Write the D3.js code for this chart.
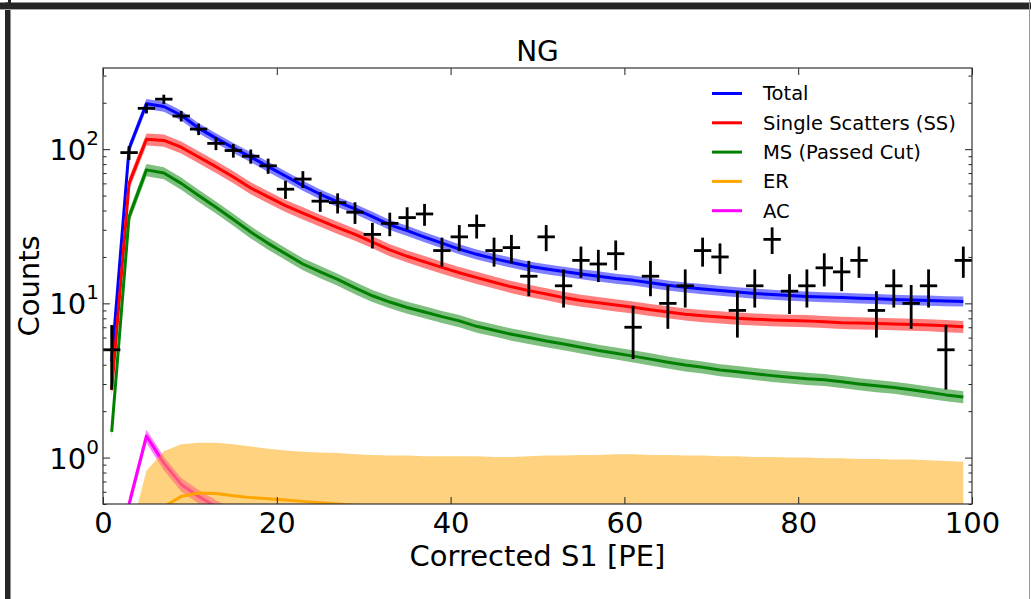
<!DOCTYPE html>
<html>
<head>
<meta charset="utf-8">
<script src="https://cdn.jsdelivr.net/npm/d3@7"></script>
<style>
  body { margin: 0; background: #fff; }
  svg { display: block; font-family: "DejaVu Sans", sans-serif; }
</style>
</head>
<body>
<svg id="chart" width="1031" height="599"></svg>
<script>
// 2 PE wide bins, centres at 1, 3, ..., 99
const binCenters = d3.range(1, 100, 2);

// Observed neutron-generator counts per bin
const dataCounts = [5, 95, 184, 211, 164, 135, 109, 98, 90, 78,
  55, 64, 46, 45, 39, 28, 33, 36, 38, 22,
  27, 32, 22, 23, 15, 27, 13, 19, 18, 21,
  7, 15, 10, 13, 22, 20, 9, 13, 26, 12,
  13, 17, 16, 19, 9, 13, 10, 13, 5, 19];

// Model components
const totalModel = [4.2, 101, 197, 189, 166, 137, 118, 102, 89, 77,
  67, 58, 51, 45.5, 41, 36.5, 32.3, 29.6, 26.9, 24.6,
  22.5, 20.8, 19.5, 18.4, 17.4, 16.7, 16.1, 15.5, 15.0, 14.5,
  14.1, 13.6, 13.1, 12.7, 12.4, 12.1, 11.85, 11.6, 11.4, 11.25,
  11.1, 11.0, 10.9, 10.8, 10.7, 10.6, 10.5, 10.45, 10.35, 10.3];

const ssModel = [2.74, 60, 116, 114, 103, 89, 77, 66, 56, 49,
  43, 38.5, 34.5, 31, 28, 25, 22.2, 20.2, 18.6, 17.1,
  15.8, 14.7, 13.7, 12.8, 12.1, 11.5, 10.9, 10.45, 10.1, 9.75,
  9.45, 9.1, 8.8, 8.5, 8.3, 8.15, 8.0, 7.9, 7.8, 7.75,
  7.7, 7.6, 7.5, 7.45, 7.4, 7.35, 7.3, 7.25, 7.15, 7.05];

const msModel = [1.47, 36.5, 73.4, 70, 60, 50, 42, 35, 29, 24.5,
  21, 18, 16, 14.3, 12.6, 11.2, 10.2, 9.4, 8.8, 8.2,
  7.7, 7.1, 6.7, 6.3, 6.0, 5.7, 5.45, 5.2, 4.95, 4.75,
  4.55, 4.35, 4.15, 3.98, 3.85, 3.7, 3.6, 3.5, 3.4, 3.32,
  3.25, 3.2, 3.1, 3.0, 2.92, 2.85, 2.75, 2.65, 2.55, 2.47];

const erModel = [0.05, 0.15, 0.3, 0.48, 0.56, 0.59, 0.585, 0.565, 0.55, 0.54,
  0.53, 0.52, 0.51, 0.5, 0.49, 0.48, 0.47, 0.46, 0.455, 0.45,
  0.445, 0.44, 0.435, 0.43, 0.425, 0.42, 0.415, 0.41, 0.41, 0.405,
  0.4, 0.4, 0.395, 0.39, 0.39, 0.385, 0.38, 0.38, 0.375, 0.37,
  0.37, 0.365, 0.36, 0.36, 0.355, 0.35, 0.35, 0.345, 0.34, 0.34];

// Upper edge of the ER uncertainty band (lower edge is off scale)
const erUpper = [0.1, 0.3, 0.82, 1.1, 1.22, 1.25, 1.25, 1.22, 1.18, 1.14,
  1.11, 1.09, 1.08, 1.07, 1.05, 1.04, 1.03, 1.03, 1.02, 1.02,
  1.02, 1.02, 1.01, 1.01, 1.02, 1.03, 1.03, 1.04, 1.04, 1.05,
  1.05, 1.04, 1.04, 1.03, 1.03, 1.02, 1.02, 1.01, 1.01, 1.0,
  1.0, 0.99, 0.99, 0.98, 0.98, 0.97, 0.97, 0.96, 0.95, 0.94];

const acModel = [0.05, 0.5, 1.38, 0.92, 0.67, 0.56, 0.48, 0.42, 0.37, 0.33,
  0.3, 0.27, 0.25, 0.23, 0.21, 0.2, 0.19, 0.18, 0.17, 0.16,
  0.155, 0.15, 0.145, 0.14, 0.135, 0.13, 0.125, 0.12, 0.12, 0.115,
  0.11, 0.11, 0.105, 0.1, 0.1, 0.1, 0.095, 0.095, 0.09, 0.09,
  0.09, 0.085, 0.085, 0.08, 0.08, 0.08, 0.075, 0.075, 0.075, 0.07];

// Relative width of the model uncertainty bands
const bandFrac = { total: 0.075, ss: 0.09, ms: 0.09, ac: 0.1 };

const xTicks = [0, 20, 40, 60, 80, 100];
const yMajor = [1, 10, 100];
const yExponents = ["0", "1", "2"];
const legendLabels = ["Total", "Single Scatters (SS)", "MS (Passed Cut)", "ER", "AC"];
const legendColors = ["#0000ff", "#ff0000", "#008000", "#ffa500", "#ff00ff"];

const svg = d3.select("#chart");
const plotL = 103, plotR = 972, plotT = 68, plotB = 504;

const x = d3.scaleLinear().domain([0, 100]).range([plotL, plotR]);
const y = d3.scaleLog().domain([0.5, 336]).range([plotB, plotT]);

// outer window frame
svg.append("rect").attr("x", 0).attr("y", 2.5).attr("width", 1031).attr("height", 6.5).attr("fill", "#262626");
svg.append("rect").attr("x", 5).attr("y", 2.5).attr("width", 5.5).attr("height", 597).attr("fill", "#262626");
svg.append("rect").attr("x", 8).attr("y", 0).attr("width", 3).attr("height", 4).attr("fill", "#262626");
svg.append("line").attr("x1", 0).attr("x2", 1031).attr("y1", 9.5).attr("y2", 9.5).attr("stroke", "#aaa").attr("stroke-width", 1);
svg.append("line").attr("x1", 1029.5).attr("x2", 1029.5).attr("y1", 0).attr("y2", 599).attr("stroke", "#999").attr("stroke-width", 1);

svg.append("defs").append("clipPath").attr("id", "plotClip")
  .append("rect").attr("x", plotL).attr("y", plotT).attr("width", plotR - plotL).attr("height", plotB - plotT);

const plot = svg.append("g").attr("clip-path", "url(#plotClip)");

const lineGen = d3.line().x((d, i) => x(binCenters[i])).y(d => y(d));
const bandGen = (frac) => d3.area()
  .x((d, i) => x(binCenters[i]))
  .y0(d => y(d * (1 - frac)))
  .y1(d => y(d * (1 + frac)));

function drawModel(values, color, frac) {
  plot.append("path").datum(values).attr("d", bandGen(frac))
    .attr("fill", color).attr("fill-opacity", 0.5).attr("stroke", "none");
  plot.append("path").datum(values).attr("d", lineGen)
    .attr("fill", "none").attr("stroke", color).attr("stroke-width", 3)
    .attr("stroke-linejoin", "round");
}

drawModel(totalModel, "#0000ff", bandFrac.total);
drawModel(ssModel, "#ff0000", bandFrac.ss);
drawModel(msModel, "#008000", bandFrac.ms);
drawModel(acModel, "#ff00ff", bandFrac.ac);

// ER band runs from off-scale up to its upper edge
const erArea = d3.area()
  .x((d, i) => x(binCenters[i]))
  .y0(plotB + 50)
  .y1(d => y(d));
plot.append("path").datum(erUpper).attr("d", erArea)
  .attr("fill", "#ffa500").attr("fill-opacity", 0.5);
plot.append("path").datum(erModel).attr("d", lineGen)
  .attr("fill", "none").attr("stroke", "#ffa500").attr("stroke-width", 3);

// data points with Poisson errors and bin-width bars
const pts = plot.append("g").attr("stroke", "#000").attr("stroke-width", 2.8);
dataCounts.forEach((c, i) => {
  const xc = binCenters[i];
  const err = Math.sqrt(c);
  pts.append("line")
    .attr("x1", x(xc - 1)).attr("x2", x(xc + 1))
    .attr("y1", y(c)).attr("y2", y(c));
  pts.append("line")
    .attr("x1", x(xc)).attr("x2", x(xc))
    .attr("y1", y(c + err)).attr("y2", y(Math.max(c - err, 0.01)));
});

// axes: ticks point inward on all four sides
const minorVals = [];
[0.1, 1, 10, 100].forEach(dec => {
  for (let k = 2; k <= 9; k++) {
    const v = dec * k;
    if (v >= 0.5 && v <= 336) minorVals.push(v);
  }
});

function styleAxis(g) {
  g.select(".domain").remove();
  g.selectAll(".tick line").attr("stroke", "#222").attr("stroke-width", 1);
}

svg.append("g").attr("transform", `translate(0,${plotB})`)
  .call(d3.axisBottom(x).tickValues(xTicks).tickSize(-7).tickPadding(8).tickFormat(d3.format("d")))
  .call(styleAxis)
  .call(g => g.selectAll("text").attr("font-size", 29).attr("fill", "#000")
    .attr("font-family", "DejaVu Sans").attr("dy", "0.71em"));
svg.append("g").attr("transform", `translate(0,${plotT})`)
  .call(d3.axisTop(x).tickValues(xTicks).tickSize(-7).tickFormat(""))
  .call(styleAxis);

[["axisLeft", plotL], ["axisRight", plotR]].forEach(([fn, pos]) => {
  svg.append("g").attr("transform", `translate(${pos},0)`)
    .call(d3[fn](y).tickValues(yMajor).tickSize(-7).tickFormat(""))
    .call(styleAxis);
  svg.append("g").attr("transform", `translate(${pos},0)`)
    .call(d3[fn](y).tickValues(minorVals).tickSize(-3.5).tickFormat(""))
    .call(styleAxis);
});

// y tick labels as powers of ten
yMajor.forEach((v, i) => {
  const t = svg.append("text")
    .attr("x", 99).attr("y", y(v) + 11)
    .attr("text-anchor", "end").attr("font-size", 29).attr("fill", "#000");
  t.append("tspan").text("10");
  t.append("tspan").attr("dy", -15).attr("font-size", 20).text(yExponents[i]);
});

// plot frame
svg.append("rect").attr("x", plotL).attr("y", plotT).attr("width", plotR - plotL).attr("height", plotB - plotT)
  .attr("fill", "none").attr("stroke", "#333").attr("stroke-width", 1.2);

// titles
svg.append("text").attr("x", (plotL + plotR) / 2).attr("y", 61).attr("text-anchor", "middle")
  .attr("font-size", 28).text("NG");
svg.append("text").attr("x", (plotL + plotR) / 2).attr("y", 566).attr("text-anchor", "middle")
  .attr("font-size", 29).text("Corrected S1 [PE]");
svg.append("text").attr("transform", `translate(38.5,${(plotT + plotB) / 2}) rotate(-90)`)
  .attr("text-anchor", "middle").attr("font-size", 29).text("Counts");

// legend
const legend = svg.append("g");
legendLabels.forEach((lab, i) => {
  const ly = 93.5 + i * 29.3;
  legend.append("line").attr("x1", 712).attr("x2", 742).attr("y1", ly).attr("y2", ly)
    .attr("stroke", legendColors[i]).attr("stroke-width", 3);
  legend.append("text").attr("x", 763).attr("y", ly).attr("dy", "0.35em")
    .attr("font-size", 19.5).attr("fill", "#000").text(lab);
});
</script>
</body>
</html>
